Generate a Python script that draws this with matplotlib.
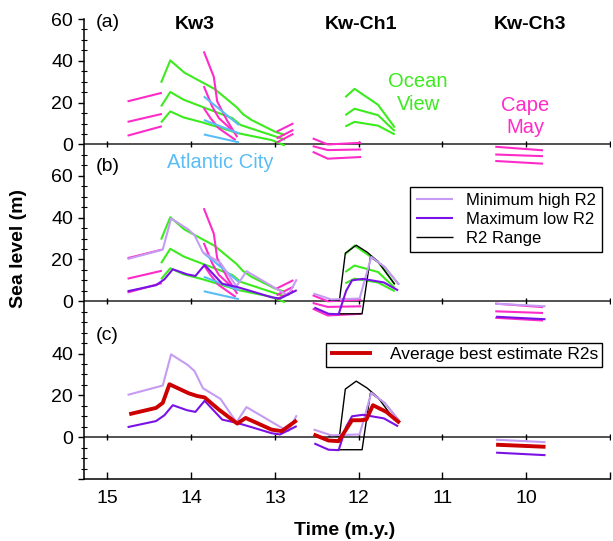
import matplotlib.pyplot as plt

plt.rcParams['font.family'] = ['Liberation Sans', 'DejaVu Sans']

# vertical offset of each stacked panel on the shared axis
OFF_A, OFF_B, OFF_C = 140, 65, 0

MAGENTA = '#ff2bc8'
GREEN = '#3ceb1e'
BLUE = '#5bbdf5'
LIGHT_PURPLE = '#c59cf3'
PURPLE = '#7a12e6'
RED = '#cc0000'

# ---- Kw3 sequence ----
cm_early_x = [14.76, 14.35]
cm_early = [[20.6, 24.7], [10.8, 14.6], [4.2, 8.7]]

ov_kw3_top_x = [14.36, 14.25, 14.08, 13.72, 13.46, 13.38, 13.28, 13.00, 12.88]
ov_kw3_top = [29.5, 40.2, 34.3, 26.5, 17.9, 14.4, 11.7, 6.1, 4.5]
ov_kw3_mid_x = [14.36, 14.25, 14.09, 13.83, 13.51, 13.41, 12.88]
ov_kw3_mid = [18.2, 25.1, 21.4, 17.4, 12.6, 9.3, 2.3]
ov_kw3_bot_x = [14.36, 14.25, 14.09, 13.87, 13.43, 13.04, 12.88]
ov_kw3_bot = [10.5, 15.8, 12.9, 10.6, 5.3, 2.1, -0.5]

cm_steep1_x = [13.85, 13.73, 13.69, 13.57, 13.45]
cm_steep1 = [44.5, 32.3, 20.6, 11.3, 3.5]
cm_steep2_x = [13.85, 13.75, 13.67, 13.47]
cm_steep2 = [27.9, 18.2, 12.6, 5.3]
cm_steep3_x = [13.85, 13.77, 13.67, 13.47]
cm_steep3 = [17.4, 12.6, 7.7, 2.1]

ac_x = [13.85, 13.43]
ac = [[23.0, 9.3], [11.7, 5.3], [4.8, 1.0]]

cm_late_x = [12.98, 12.78]
cm_late = [[6.1, 10.1], [2.9, 7.0], [0.9, 5.1]]

# ---- Kw-Ch1 sequence ----
cm_ch1_x = [12.55, 12.37, 11.97]
cm_ch1 = [[2.9, 0.0, 0.8], [-0.8, -2.7, -2.4], [-3.5, -6.8, -6.0]]

ov_ch1_x = [12.16, 12.05, 11.77, 11.57]
ov_ch1 = [[22.6, 26.6, 19.0, 8.1], [14.0, 17.1, 14.0, 6.4], [8.6, 10.8, 9.0, 4.8]]

# ---- Kw-Ch3 sequence ----
cm_ch3_x = [10.37, 9.80]
cm_ch3 = [[-1.1, -2.8], [-4.8, -5.6], [-7.9, -9.2]]

# ---- R2 composites ----
min_high_kw3_x = [14.76, 14.34, 14.24, 14.04, 13.96, 13.86, 13.65, 13.46, 13.34, 12.92, 12.84, 12.74]
min_high_kw3 = [20.2, 24.7, 39.6, 34.5, 31.6, 23.4, 18.3, 7.1, 14.4, 4.5, 3.0, 10.5]
max_low_kw3_x = [14.76, 14.42, 14.32, 14.22, 14.05, 13.95, 13.84, 13.63, 13.45, 13.28, 13.04, 12.94, 12.74]
max_low_kw3 = [4.8, 7.7, 10.5, 15.3, 12.9, 12.1, 17.4, 8.4, 6.8, 4.8, 1.9, 1.3, 5.3]
avg_kw3_x = [14.74, 14.42, 14.34, 14.26, 14.03, 13.93, 13.84, 13.67, 13.45, 13.35, 13.04, 12.92, 12.74]
avg_kw3 = [11.0, 14.0, 16.4, 25.3, 21.0, 19.7, 19.0, 13.2, 6.5, 9.2, 3.6, 2.9, 8.1]

min_high_ch1_x = [12.54, 12.33, 11.99, 11.85, 11.69, 11.52]
min_high_ch1 = [3.7, 0.9, 1.3, 21.2, 16.4, 8.0]
max_low_ch1_x = [12.53, 12.36, 12.24, 12.15, 12.08, 11.95, 11.70, 11.53]
max_low_ch1 = [-3.0, -6.0, -6.2, 5.0, 10.0, 10.7, 9.0, 5.2]
avg_ch1_x = [12.54, 12.36, 12.24, 12.18, 12.08, 11.98, 11.91, 11.83, 11.67, 11.51]
avg_ch1 = [1.3, -1.6, -1.9, 1.9, 8.1, 8.1, 8.4, 15.3, 12.1, 6.8]
range_hi_x = [12.36, 12.23, 12.16, 12.03, 11.90, 11.77, 11.57]
range_hi = [0.5, 0.5, 23.0, 26.8, 23.5, 19.0, 8.1]
range_lo_x = [12.26, 11.96, 11.86, 11.69, 11.52]
range_lo = [-6.0, -6.0, 21.2, 16.4, 8.0]

ch3_x = [10.36, 9.77]
min_high_ch3 = [-1.2, -2.4]
max_low_ch3 = [-7.4, -8.6]
avg_ch3 = [-3.6, -4.6]

x_ticks = [15, 14, 13, 12, 11, 10, 9]
x_tick_labels = ['15', '14', '13', '12', '11', '10', '']


def draw(ax, x, y, off, color, lw=1.5, **kw):
    return ax.plot(x, [v + off for v in y], color=color, lw=lw,
                   solid_capstyle='butt', **kw)


fig = plt.figure(figsize=(6.13, 5.41), dpi=100)
ax = fig.add_axes([84 / 613, 62 / 541, 526 / 613, 460 / 541])


def proxy_lines(off):
    for ys in cm_early:
        draw(ax, cm_early_x, ys, off, MAGENTA)
    for xs, ys in [(ov_kw3_top_x, ov_kw3_top), (ov_kw3_mid_x, ov_kw3_mid),
                   (ov_kw3_bot_x, ov_kw3_bot)]:
        draw(ax, xs, ys, off, GREEN)
    for xs, ys in [(cm_steep1_x, cm_steep1), (cm_steep2_x, cm_steep2),
                   (cm_steep3_x, cm_steep3)]:
        draw(ax, xs, ys, off, MAGENTA)
    for ys in ac:
        draw(ax, ac_x, ys, off, BLUE)
    for ys in cm_late:
        draw(ax, cm_late_x, ys, off, MAGENTA)
    for ys in cm_ch1:
        draw(ax, cm_ch1_x, ys, off, MAGENTA)
    for ys in ov_ch1:
        draw(ax, ov_ch1_x, ys, off, GREEN)
    for ys in cm_ch3:
        draw(ax, cm_ch3_x, ys, off, MAGENTA)


# (a) individual sections
proxy_lines(OFF_A)

# (b) sections with R2 envelopes
proxy_lines(OFF_B)
h_range, = draw(ax, range_hi_x, range_hi, OFF_B, 'black', lw=1.0)
draw(ax, range_lo_x, range_lo, OFF_B, 'black', lw=1.0)
h_min, = draw(ax, min_high_kw3_x, min_high_kw3, OFF_B, LIGHT_PURPLE)
draw(ax, min_high_ch1_x, min_high_ch1, OFF_B, LIGHT_PURPLE)
draw(ax, ch3_x, min_high_ch3, OFF_B, LIGHT_PURPLE)
h_max, = draw(ax, max_low_kw3_x, max_low_kw3, OFF_B, PURPLE)
draw(ax, max_low_ch1_x, max_low_ch1, OFF_B, PURPLE)
draw(ax, ch3_x, max_low_ch3, OFF_B, PURPLE)

# (c) best estimate
draw(ax, range_hi_x, range_hi, OFF_C, 'black', lw=1.0)
draw(ax, range_lo_x, range_lo, OFF_C, 'black', lw=1.0)
draw(ax, min_high_kw3_x, min_high_kw3, OFF_C, LIGHT_PURPLE)
draw(ax, min_high_ch1_x, min_high_ch1, OFF_C, LIGHT_PURPLE)
draw(ax, ch3_x, min_high_ch3, OFF_C, LIGHT_PURPLE)
draw(ax, max_low_kw3_x, max_low_kw3, OFF_C, PURPLE)
draw(ax, max_low_ch1_x, max_low_ch1, OFF_C, PURPLE)
draw(ax, ch3_x, max_low_ch3, OFF_C, PURPLE)
h_avg, = draw(ax, avg_kw3_x, avg_kw3, OFF_C, RED, lw=2.8)
draw(ax, avg_ch1_x, avg_ch1, OFF_C, RED, lw=2.8)
draw(ax, ch3_x, avg_ch3, OFF_C, RED, lw=2.8)

# zero lines of each panel, with small time ticks
for off in (OFF_A, OFF_B, OFF_C):
    ax.axhline(off, color='#222222', lw=1.1, zorder=1)
    ax.plot(x_ticks, [off] * len(x_ticks), ls='none', marker='|',
            ms=5, mew=1.0, color='black', zorder=1)

ax.set_xlim(15.28, 9.0)
ax.set_ylim(-20, 200)
ax.set_xticks(x_ticks)
ax.set_xticklabels(x_tick_labels, fontsize=14)
ax.tick_params(axis='x', direction='in', length=5, width=1, pad=8)

y_major = [-20, 0, 20, 40, 65, 85, 105, 125, 140, 160, 180, 200]
y_labels = ['', '0', '20', '40', '0', '20', '40', '60', '0', '20', '40', '60']
ax.set_yticks(y_major)
ax.set_yticklabels(y_labels, fontsize=14)
ax.set_yticks([v for v in range(-20, 201, 5) if v not in y_major], minor=True)
ax.tick_params(axis='y', which='major', direction='out', length=4, width=1, pad=4)
ax.tick_params(axis='y', which='minor', direction='inout', length=4, width=0.8)

for side in ('top', 'right'):
    ax.spines[side].set_visible(False)
ax.spines['left'].set_linewidth(1.1)
ax.spines['bottom'].set_linewidth(1.1)

ax.set_xlabel('Time (m.y.)', fontsize=14, fontweight='bold')
ax.xaxis.set_label_coords(0.496, -0.093)
ax.set_ylabel('Sea level (m)', fontsize=14, fontweight='bold')
ax.yaxis.set_label_coords(-0.108, 0.502)

# panel tags and section names
for tag, y in [('(a)', 198.5), ('(b)', 129.4), ('(c)', 48.4)]:
    ax.text(15.0, y, tag, fontsize=14, ha='center', va='center')
for name, x in [('Kw3', 13.96), ('Kw-Ch1', 11.97), ('Kw-Ch3', 9.95)]:
    ax.text(x, 197.5, name, fontsize=14, fontweight='bold', ha='center', va='center')

ax.text(13.65, 131.5, 'Atlantic City', color=BLUE, fontsize=14.5, ha='center', va='center')
ax.text(11.29, 164.5, 'Ocean\nView', color=GREEN, fontsize=14.5, ha='center',
        va='center', linespacing=1.3)
ax.text(10.01, 153.2, 'Cape\nMay', color=MAGENTA, fontsize=14.5, ha='center',
        va='center', linespacing=1.2)

leg1 = ax.legend([h_min, h_max, h_range], ['Minimum high R2', 'Maximum low R2', 'R2 Range'],
                 loc='upper right', bbox_to_anchor=(0.985, 0.635), fontsize=12,
                 fancybox=False, edgecolor='black', framealpha=1, borderpad=0.35,
                 labelspacing=0.25, handlelength=2.2, handletextpad=0.8, borderaxespad=0)
leg1.get_frame().set_linewidth(1.0)
ax.add_artist(leg1)
leg2 = ax.legend([h_avg], ['Average best estimate R2s'], loc='upper right',
                 bbox_to_anchor=(0.985, 0.296), fontsize=12.5, fancybox=False,
                 edgecolor='black', framealpha=1, borderpad=0.25, handlelength=2.4,
                 handletextpad=1.0, borderaxespad=0)
leg2.get_frame().set_linewidth(1.0)

fig.savefig('out.png', dpi=100)
